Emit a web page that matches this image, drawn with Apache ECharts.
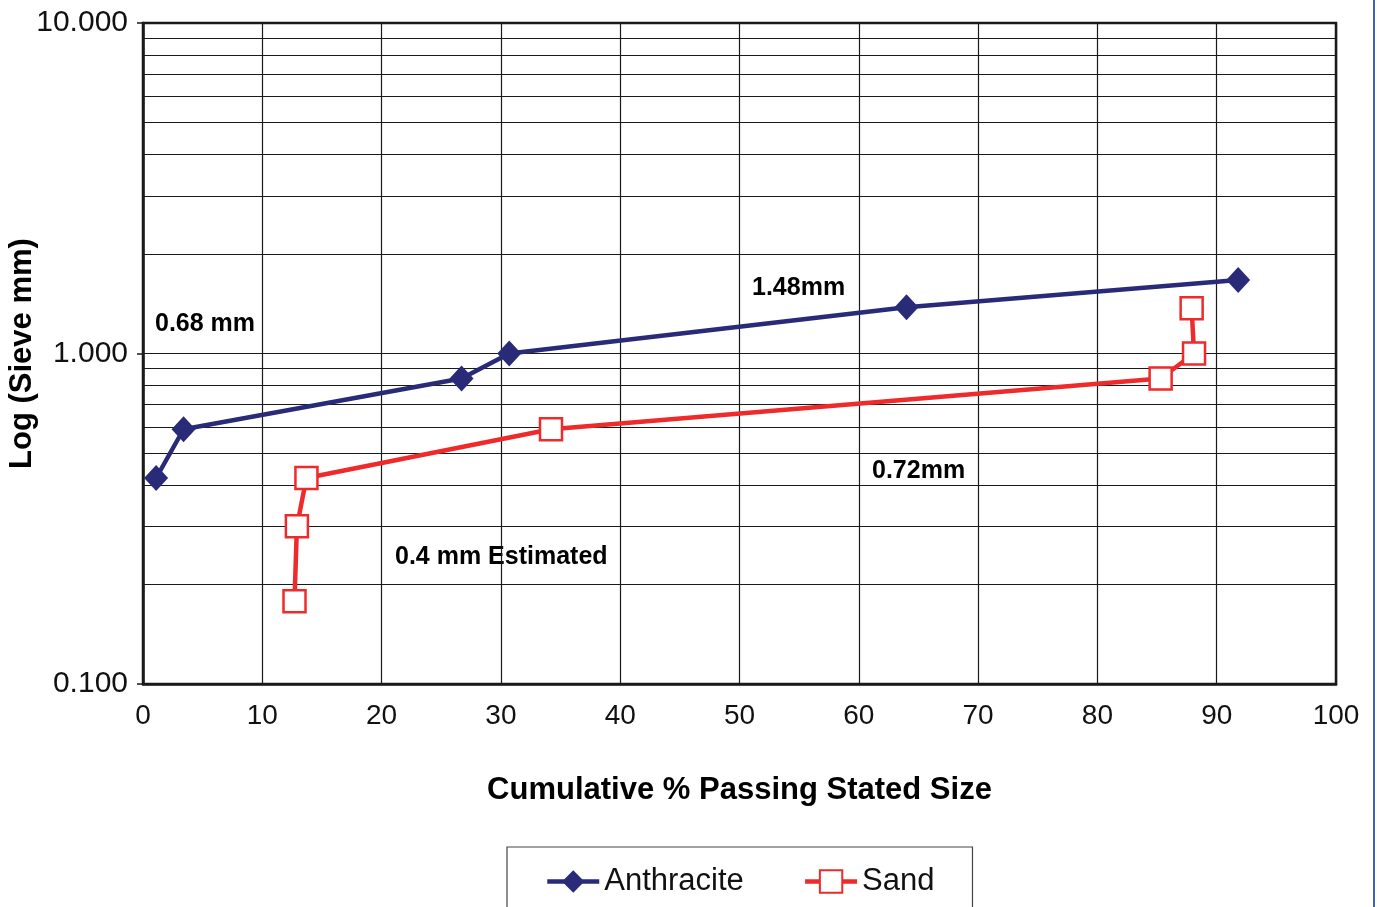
<!DOCTYPE html>
<html>
<head>
<meta charset="utf-8">
<script src="https://cdn.jsdelivr.net/npm/echarts@6/dist/echarts.min.js"></script>
<style>
html,body{margin:0;padding:0;background:#fff;}
#chart{width:1377px;height:907px;}
</style>
</head>
<body>
<div id="chart"></div>
<script>
// ---- data ----
const anthraciteX = [1.1, 3.4, 26.7, 30.7, 64.0, 91.8];
const anthraciteY = [0.42, 0.59, 0.84, 1.0, 1.38, 1.67];
const sandX = [12.7, 12.9, 13.7, 34.2, 85.3, 88.1, 87.9];
const sandY = [0.178, 0.30, 0.42, 0.59, 0.84, 1.0, 1.37];
const xTicks = [0, 10, 20, 30, 40, 50, 60, 70, 80, 90, 100];
const yTicks = [0.1, 1, 10];
const minorGridValues = [0.2, 0.3, 0.4, 0.5, 0.6, 0.7, 0.8, 0.9, 2, 3, 4, 5, 6, 7, 8, 9];
const seriesNames = ['Anthracite', 'Sand'];
const annotationTexts = ['0.68 mm', '1.48mm', '0.72mm', '0.4 mm Estimated'];
const xTitle = 'Cumulative % Passing Stated Size';
const yTitle = 'Log (Sieve mm)';

const NAVY = '#2a2b78';
const RED = '#ee2a2a';
const INK = '#1a1a1a';
const FONT = '"Liberation Sans", Arial, sans-serif';

const chart = echarts.init(document.getElementById('chart'));

const zip = (xs, ys) => xs.map((x, i) => [x, ys[i]]);

const option = {
  animation: false,
  backgroundColor: '#fff',
  textStyle: { fontFamily: FONT },
  grid: {
    left: 143, top: 23, right: 41, bottom: 223,
    containLabel: false, outerBoundsMode: 'none',
    show: true, borderColor: INK, borderWidth: 2.5, backgroundColor: 'transparent'
  },
  xAxis: {
    type: 'value',
    min: xTicks[0], max: xTicks[xTicks.length - 1], interval: 10,
    name: xTitle, nameLocation: 'middle', nameGap: 91, nameMoveOverlap: false,
    nameTextStyle: { fontFamily: FONT, fontSize: 31, fontWeight: 'bold', color: '#000' },
    axisLine: { show: true, lineStyle: { color: INK, width: 2.5 } },
    axisTick: { show: false },
    axisLabel: { fontFamily: FONT, fontSize: 28, color: '#111', margin: 18 },
    splitLine: { show: true, lineStyle: { color: INK, width: 1.2 } }
  },
  yAxis: {
    type: 'log', logBase: 10,
    min: yTicks[0], max: yTicks[yTicks.length - 1],
    name: yTitle, nameLocation: 'middle', nameGap: 105, nameRotate: 90, nameMoveOverlap: false,
    nameTextStyle: { fontFamily: FONT, fontSize: 31, fontWeight: 'bold', color: '#000' },
    axisLine: { show: true, lineStyle: { color: INK, width: 2.5 } },
    axisTick: { show: true, inside: false, length: 6, lineStyle: { color: INK, width: 1.5 } },
    axisLabel: { fontFamily: FONT, fontSize: 30, color: '#111', margin: 15,
      formatter: v => Number(v).toFixed(3) },
    splitLine: { show: true, lineStyle: { color: INK, width: 1.2 } },
    minorTick: { show: false }, minorSplitLine: { show: false }
  },
  legend: {
    data: seriesNames,
    left: 507, top: 847,
    padding: [19, 38, 19, 38],
    itemGap: 59,
    itemWidth: 52, itemHeight: 28,
    lineStyle: { width: 4.5 },
    borderColor: '#444', borderWidth: 1.2,
    textStyle: { fontFamily: FONT, fontSize: 31, color: '#111' }
  },
  series: [
    {
      name: seriesNames[0], type: 'line', data: zip(anthraciteX, anthraciteY),
      symbol: 'diamond', symbolSize: [24, 26],
      lineStyle: { color: NAVY, width: 4.5 },
      itemStyle: { color: NAVY, borderColor: NAVY, borderWidth: 0 },
      z: 5,
      markLine: {
        silent: true, symbol: ['none', 'none'], label: { show: false },
        lineStyle: { color: INK, width: 1.2, type: 'solid' },
        emphasis: { disabled: true },
        data: minorGridValues.map(v => ({ yAxis: v })),
        z: 1
      }
    },
    {
      name: seriesNames[1], type: 'line', data: zip(sandX, sandY),
      symbol: 'rect', symbolSize: 22,
      lineStyle: { color: RED, width: 4.5 },
      itemStyle: { color: '#fff', borderColor: RED, borderWidth: 2.5 },
      z: 6
    }
  ],
  graphic: [
    { type: 'text', left: 155, top: 312, style: { text: annotationTexts[0], font: 'bold 25px ' + FONT, fill: '#000' } },
    { type: 'text', left: 752, top: 276, style: { text: annotationTexts[1], font: 'bold 25px ' + FONT, fill: '#000' } },
    { type: 'text', left: 872, top: 459, style: { text: annotationTexts[2], font: 'bold 25px ' + FONT, fill: '#000' } },
    { type: 'text', left: 395, top: 545, style: { text: annotationTexts[3], font: 'bold 25px ' + FONT, fill: '#000' } },
    { type: 'rect', left: 1373, top: 0, shape: { width: 2, height: 907 }, style: { fill: '#3f63b8' } }
  ]
};

chart.setOption(option);
</script>
</body>
</html>
